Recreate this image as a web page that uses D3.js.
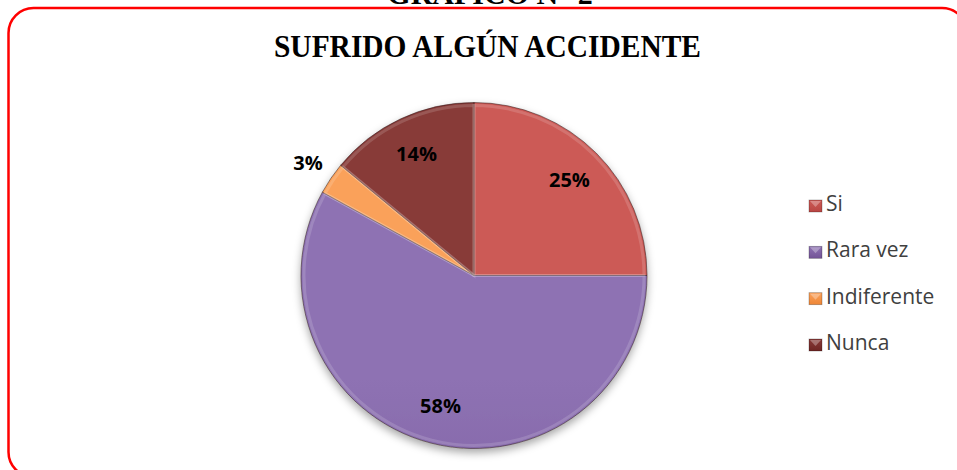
<!DOCTYPE html>
<html>
<head>
<meta charset="utf-8">
<script src="https://cdn.jsdelivr.net/npm/d3@7"></script>
<style>
  body { margin: 0; background: #fff; }
  svg { display: block; }
</style>
</head>
<body>
<svg id="chart"></svg>
<script>
// chart values
var categories = ["Si", "Rara vez", "Indiferente", "Nunca"]
var values = [25, 58, 3, 14]
var labels = ["25%", "58%", "3%", "14%"]
var colors = ["#B94643", "#735396", "#EE8636", "#6E2523"]
var lightColors = ["#CC5A56", "#8E72B3", "#FAA15A", "#883A38"]

var dimensions = {
    width: 957,
    height: 470,
    cx: 474,
    cy: 275.5,
    r: 173
}

var svg = d3.select("#chart")
            .attr("width", dimensions.width)
            .attr("height", dimensions.height)

var defs = svg.append("defs")

//soft shadow under the pie
var shadow = defs.append("filter").attr("id", "shadow")
    .attr("x", "-20%").attr("y", "-20%").attr("width", "140%").attr("height", "140%")
shadow.append("feDropShadow")
    .attr("dx", 0).attr("dy", 4)
    .attr("stdDeviation", 4)
    .attr("flood-color", "#000")
    .attr("flood-opacity", 0.35)

//one vertical gradient per slice colour
categories.forEach(function(c, i){
    var g = defs.append("linearGradient")
        .attr("id", "grad" + i)
        .attr("gradientUnits", "userSpaceOnUse")
        .attr("x1", 0).attr("x2", 0)
        .attr("y1", dimensions.cy - dimensions.r)
        .attr("y2", dimensions.cy + dimensions.r)
    g.append("stop").attr("offset", "0%").attr("stop-color", lightColors[i])
    g.append("stop").attr("offset", "100%").attr("stop-color", colors[i])

    var lg = defs.append("linearGradient")
        .attr("id", "lgrad" + i)
        .attr("x1", 0).attr("x2", 0).attr("y1", 0).attr("y2", 1)
    lg.append("stop").attr("offset", "0%").attr("stop-color", lightColors[i])
    lg.append("stop").attr("offset", "100%").attr("stop-color", colors[i])
})

//red rounded frame (runs off the right and bottom edges)
svg.append("rect")
    .attr("x", 8.5).attr("y", 8)
    .attr("width", 958.5).attr("height", 469)
    .attr("rx", 25).attr("ry", 25)
    .attr("fill", "none")
    .attr("stroke", "#FF0000")
    .attr("stroke-width", 2.5)

//caption above the frame, cut off at the top like in the original
svg.append("text")
    .attr("x", 490).attr("y", 4)
    .attr("text-anchor", "middle")
    .style("font-family", "'Liberation Serif', 'Times New Roman', serif")
    .style("font-weight", "bold")
    .style("font-size", "30px")
    .attr("fill", "#000")
    .text("GRÁFICO N° 2")

//title
svg.append("text")
    .attr("x", 487.5).attr("y", 57)
    .attr("text-anchor", "middle")
    .attr("textLength", 427)
    .attr("lengthAdjust", "spacingAndGlyphs")
    .style("font-family", "'Liberation Serif', 'Times New Roman', serif")
    .style("font-weight", "bold")
    .style("font-size", "32px")
    .attr("fill", "#000")
    .text("SUFRIDO ALGÚN ACCIDENTE")

var pie = d3.pie().sort(null).value(d => d)
var arcs = pie(values)

var arc = d3.arc().innerRadius(0).outerRadius(dimensions.r)
var bevelArc = d3.arc().innerRadius(0).outerRadius(dimensions.r - 3)
var labelArc = d3.arc().innerRadius(dimensions.r * 0.78).outerRadius(dimensions.r * 0.78)
var outerLabelArc = d3.arc().innerRadius(dimensions.r * 1.16).outerRadius(dimensions.r * 1.16)

var pieG = svg.append("g")
    .attr("transform", `translate(${dimensions.cx},${dimensions.cy})`)

var slices = pieG.append("g").attr("filter", "url(#shadow)")

slices.selectAll("path.slice")
    .data(arcs)
    .enter()
    .append("path")
    .attr("class", "slice")
    .attr("d", arc)
    .attr("fill", (d, i) => `url(#grad${i})`)
    .attr("stroke", "rgba(40,20,20,0.5)")
    .attr("stroke-width", 1)

//bevel highlight just inside each slice edge
pieG.selectAll("path.bevel")
    .data(arcs)
    .enter()
    .append("path")
    .attr("class", "bevel")
    .attr("d", bevelArc)
    .attr("fill", "none")
    .attr("stroke", "rgba(255,255,255,0.15)")
    .attr("stroke-width", 3)

pieG.selectAll("text.label")
    .data(arcs)
    .enter()
    .append("text")
    .attr("class", "label")
    .attr("transform", function(d){
        var c = (d.value < 5 ? outerLabelArc : labelArc).centroid(d)
        return `translate(${c[0]},${c[1]})`
    })
    .attr("text-anchor", "middle")
    .attr("dy", "0.36em")
    .style("font-family", "'Open Sans', 'Noto Sans', sans-serif")
    .style("font-weight", "bold")
    .style("font-size", "20px")
    .attr("fill", "#000")
    .text((d, i) => labels[i])

//legend
var legend = svg.append("g").attr("transform", "translate(809,0)")
var rowY = d3.scalePoint()
    .domain(categories)
    .range([206, 345])

var items = legend.selectAll("g.item")
    .data(categories)
    .enter()
    .append("g")
    .attr("class", "item")
    .attr("transform", d => `translate(0,${rowY(d)})`)

items.append("rect")
    .attr("x", 0).attr("y", -6)
    .attr("width", 13).attr("height", 12)
    .attr("fill", (d, i) => `url(#lgrad${i})`)
    .attr("stroke", "rgba(0,0,0,0.3)")
    .attr("stroke-width", 0.8)

items.append("path")
    .attr("d", "M1,-5 L12,-5 L6.5,1 Z")
    .attr("fill", "rgba(255,255,255,0.3)")

items.append("text")
    .attr("x", 17).attr("y", 5)
    .style("font-family", "'Open Sans', 'Noto Sans', sans-serif")
    .style("font-size", "21px")
    .attr("fill", "#404040")
    .text(d => d)
</script>
</body>
</html>
